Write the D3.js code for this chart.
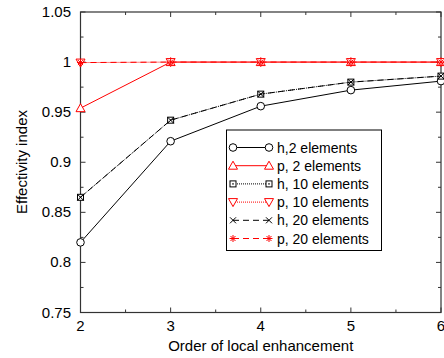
<!DOCTYPE html>
<html>
<head>
<meta charset="utf-8">
<script src="https://cdn.jsdelivr.net/npm/d3@7"></script>
<style>
  body { margin: 0; background: #fff; }
  svg { display: block; font-family: "Liberation Sans", Arial, Helvetica, sans-serif; }
</style>
</head>
<body>
<svg id="chart" width="444" height="358"></svg>
<script>
const orders = [2, 3, 4, 5, 6];
const h2 = [0.820, 0.921, 0.956, 0.972, 0.981];
const p2 = [0.954, 1.000, 1.000, 1.000, 1.000];
const h10 = [0.865, 0.942, 0.968, 0.980, 0.986];
const p10 = [0.9995, 1.000, 1.000, 1.000, 1.000];
const h20 = [0.865, 0.942, 0.968, 0.980, 0.986];
const p20 = [0.9995, 1.000, 1.000, 1.000, 1.000];
const seriesNames = ['h,2 elements', 'p, 2 elements', 'h, 10 elements', 'p, 10 elements', 'h, 20 elements', 'p, 20 elements'];
const xTicks = [2, 3, 4, 5, 6];
const yTicks = [0.75, 0.8, 0.85, 0.9, 0.95, 1, 1.05];

const series = [
    { name: seriesNames[0], values: h2, color: '#000', dash: null, marker: 'circle' },
    { name: seriesNames[1], values: p2, color: '#f00', dash: null, marker: 'triUp' },
    { name: seriesNames[2], values: h10, color: '#000', dash: '1,1', marker: 'square' },
    { name: seriesNames[3], values: p10, color: '#f00', dash: '1,1', marker: 'triDown' },
    { name: seriesNames[4], values: h20, color: '#000', dash: '6,4', marker: 'cross' },
    { name: seriesNames[5], values: p20, color: '#f00', dash: '6,4', marker: 'star' }
];

const svg = d3.select('#chart');
const plotLeft = 80.5, plotRight = 441, plotTop = 12, plotBottom = 312.5;

const x = d3.scaleLinear().domain([2, 6]).range([plotLeft, plotRight]);
const y = d3.scaleLinear().domain([0.75, 1.05]).range([plotBottom, plotTop]);

// inward ticks on all four sides
function tickLines(g, vals, len, horizontal) {
    vals.forEach(function (v) {
        if (horizontal) {
            g.append('line').attr('x1', x(v)).attr('x2', x(v)).attr('y1', plotBottom).attr('y2', plotBottom - len);
            g.append('line').attr('x1', x(v)).attr('x2', x(v)).attr('y1', plotTop).attr('y2', plotTop + len);
        } else {
            g.append('line').attr('x1', plotLeft).attr('x2', plotLeft + len).attr('y1', y(v)).attr('y2', y(v));
            g.append('line').attr('x1', plotRight).attr('x2', plotRight - len).attr('y1', y(v)).attr('y2', y(v));
        }
    });
}

const ticks = svg.append('g').attr('stroke', '#333').attr('stroke-width', 1);
tickLines(ticks, xTicks, 5, true);
tickLines(ticks, d3.range(2.5, 6, 1), 3, true);
tickLines(ticks, yTicks, 5, false);
tickLines(ticks, d3.range(0.775, 1.05, 0.05), 3, false);

svg.append('rect')
    .attr('x', plotLeft).attr('y', plotTop)
    .attr('width', plotRight - plotLeft).attr('height', plotBottom - plotTop)
    .attr('fill', 'none').attr('stroke', '#333').attr('stroke-width', 1.2);

svg.append('g').selectAll('text').data(xTicks).join('text')
    .attr('x', d => x(d)).attr('y', 331)
    .attr('text-anchor', 'middle')
    .style('font-size', '15px')
    .text(d => d);

svg.append('g').selectAll('text').data(yTicks).join('text')
    .attr('x', 71).attr('y', d => y(d) + 5)
    .attr('text-anchor', 'end')
    .style('font-size', '15px')
    .text(d => String(+d.toFixed(2)));

svg.append('text')
    .attr('x', (plotLeft + plotRight) / 2).attr('y', 351)
    .attr('text-anchor', 'middle')
    .style('font-size', '15px')
    .text('Order of local enhancement');

svg.append('text')
    .attr('transform', 'translate(27,162) rotate(-90)')
    .attr('text-anchor', 'middle')
    .style('font-size', '15px')
    .text('Effectivity index');

function drawMarker(g, type, cx, cy, color) {
    const m = g.append('g').attr('transform', `translate(${cx},${cy})`)
        .attr('stroke', color).attr('fill', 'none').attr('stroke-width', 1);
    if (type === 'circle') {
        m.append('circle').attr('r', 3.8).attr('fill', '#fff');
    } else if (type === 'triUp') {
        m.append('path').attr('d', 'M0,-4.5L4.5,3.5L-4.5,3.5Z').attr('fill', '#fff');
    } else if (type === 'triDown') {
        m.append('path').attr('d', 'M0,4.5L4.5,-3.5L-4.5,-3.5Z').attr('fill', '#fff');
    } else if (type === 'square') {
        m.append('rect').attr('x', -3).attr('y', -3).attr('width', 6).attr('height', 6).attr('fill', '#fff');
        m.append('rect').attr('x', -0.7).attr('y', -0.7).attr('width', 1.4).attr('height', 1.4).attr('fill', color).attr('stroke', 'none');
    } else if (type === 'cross') {
        m.append('path').attr('d', 'M-3,-3L3,3M-3,3L3,-3');
    } else if (type === 'star') {
        m.append('path').attr('d', 'M-3.5,0L3.5,0M0,-3.5L0,3.5M-2.5,-2.5L2.5,2.5M-2.5,2.5L2.5,-2.5');
    }
}

const line = d3.line().x((d, i) => x(orders[i])).y(d => y(d));
const plot = svg.append('g');

series.forEach(function (s) {
    plot.append('path')
        .datum(s.values)
        .attr('d', line)
        .attr('fill', 'none')
        .attr('stroke', s.color)
        .attr('stroke-width', 1)
        .attr('stroke-dasharray', s.dash);
    s.values.forEach(function (v, i) {
        drawMarker(plot, s.marker, x(orders[i]), y(v), s.color);
    });
});

// legend
const legend = svg.append('g');
legend.append('rect')
    .attr('x', 226.5).attr('y', 130)
    .attr('width', 155).attr('height', 120.5)
    .attr('fill', '#fff').attr('stroke', '#000').attr('stroke-width', 1);

series.forEach(function (s, i) {
    const ly = 147.5 + i * 18.2;
    legend.append('line')
        .attr('x1', 233).attr('x2', 269).attr('y1', ly).attr('y2', ly)
        .attr('stroke', s.color).attr('stroke-width', 1)
        .attr('stroke-dasharray', s.dash);
    drawMarker(legend, s.marker, 233, ly, s.color);
    drawMarker(legend, s.marker, 269, ly, s.color);
    legend.append('text')
        .attr('x', 277).attr('y', ly + 5)
        .style('font-size', '14px')
        .text(s.name);
});
</script>
</body>
</html>
